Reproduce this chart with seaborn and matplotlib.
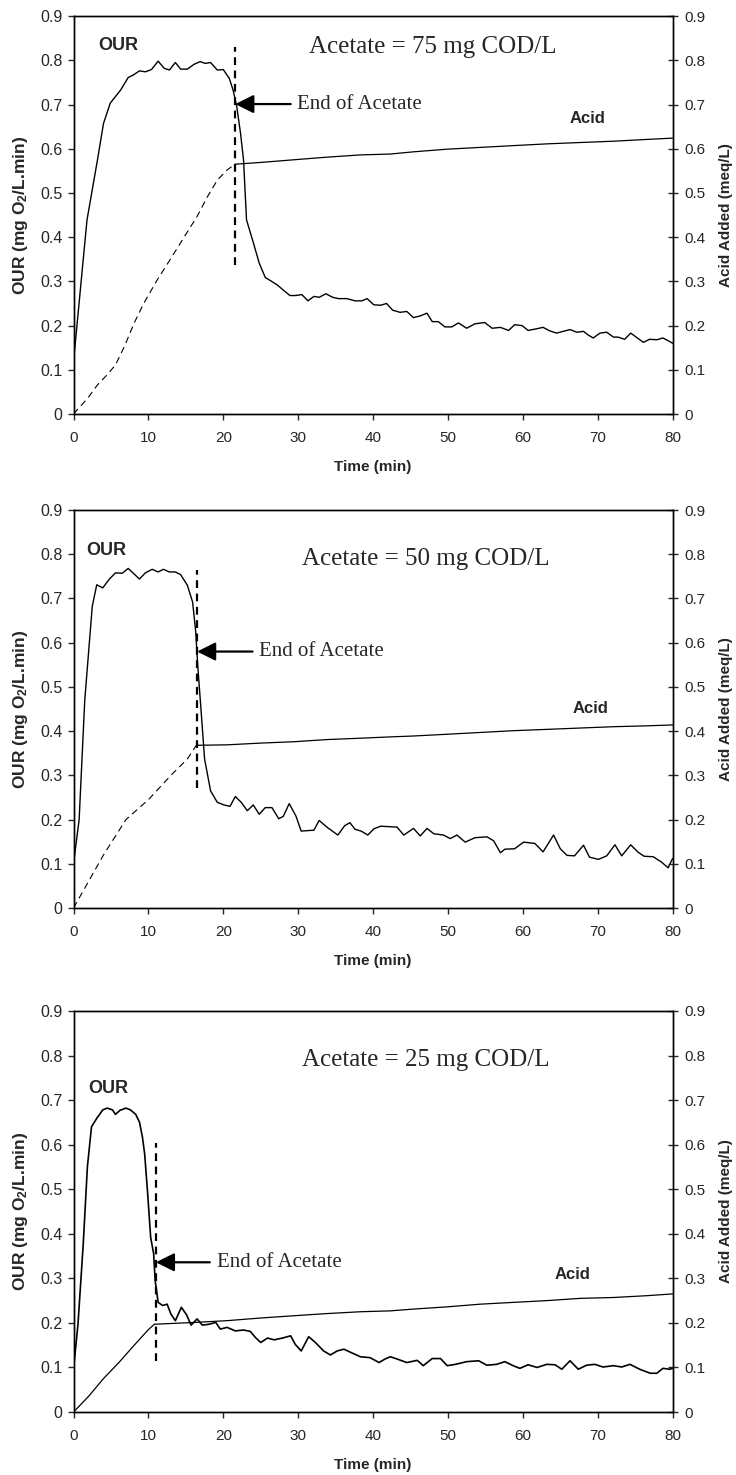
"""
OUR and acid added during acetate pulses (75, 50, 25 mg COD/L)
"""

import seaborn as sns
import numpy as np
from matplotlib import pyplot as plt

sns.set_style('ticks')
plt.rcParams['font.family'] = ['Liberation Sans', 'DejaVu Sans']
plt.rcParams['mathtext.fontset'] = 'custom'
plt.rcParams['mathtext.rm'] = 'Liberation Sans:bold'
plt.rcParams['mathtext.default'] = 'rm'

#------------------------------------------------------------------------------
# Data
#------------------------------------------------------------------------------
# Acetate = 75 mg COD/L
t_our75 = [0, 1.8, 3.2, 4.0, 4.9, 6.3, 7.3, 8.0, 8.8, 9.6,
           10.4, 11.3, 12.1, 12.8, 13.6, 14.3, 15.2, 16.1, 16.9, 17.6,
           18.3, 19.2, 20.0, 20.8, 21.3, 21.8, 22.3, 22.7, 23.1, 23.9,
           24.8, 25.6, 27.2, 28.1, 28.9, 29.6, 30.5, 31.3, 32.1, 32.8,
           33.7, 34.6, 35.4, 36.5, 37.6, 38.5, 39.2, 40.1, 41.0, 41.8,
           42.6, 43.6, 44.5, 45.4, 46.3, 47.2, 47.9, 48.7, 49.6, 50.5,
           51.4, 52.5, 53.6, 54.9, 55.9, 57.0, 58.1, 58.9, 59.9, 60.7,
           61.6, 62.7, 63.6, 64.5, 65.4, 66.3, 67.2, 68.1, 68.7, 69.4,
           70.3, 71.2, 72.1, 72.7, 73.6, 74.4, 75.3, 76.1, 76.9, 77.9,
           78.7, 79.6, 80.0]
our75 = [0.119, 0.439, 0.575, 0.657, 0.703, 0.733, 0.761, 0.767, 0.776, 0.774,
         0.779, 0.798, 0.782, 0.778, 0.795, 0.780, 0.780, 0.791, 0.797, 0.793,
         0.795, 0.778, 0.779, 0.759, 0.733, 0.695, 0.635, 0.575, 0.439, 0.394,
         0.341, 0.309, 0.292, 0.279, 0.268, 0.268, 0.270, 0.256, 0.266, 0.264,
         0.272, 0.264, 0.261, 0.261, 0.256, 0.256, 0.261, 0.247, 0.246, 0.250,
         0.235, 0.230, 0.232, 0.218, 0.222, 0.228, 0.209, 0.209, 0.197, 0.197,
         0.206, 0.194, 0.204, 0.207, 0.194, 0.196, 0.189, 0.202, 0.200, 0.189,
         0.192, 0.196, 0.188, 0.183, 0.187, 0.191, 0.185, 0.187, 0.179, 0.172,
         0.183, 0.185, 0.174, 0.174, 0.169, 0.183, 0.172, 0.162, 0.169, 0.168,
         0.172, 0.164, 0.160]
t_acid75 = [0, 1.9, 3.2, 4.5, 5.6, 6.8, 8.1, 9.4, 11.2, 13.0, 14.8, 16.5, 17.9,
            19.2, 20.5, 21.6, 25.0, 29.4, 33.9, 38.3, 42.3, 45.4, 49.9, 54.3,
            58.7, 63.2, 67.6, 72.1, 76.5, 80.0]
acid75 = [0, 0.036, 0.066, 0.089, 0.111, 0.153, 0.206, 0.251, 0.304, 0.352,
          0.401, 0.447, 0.492, 0.529, 0.552, 0.565, 0.569, 0.575, 0.581, 0.586,
          0.588, 0.593, 0.599, 0.603, 0.607, 0.611, 0.614, 0.617, 0.621, 0.624]

# Acetate = 50 mg COD/L
t_our50 = [0, 0.75, 1.5, 2.5, 3.1, 3.9, 4.8, 5.6, 6.5, 7.3,
           8.8, 9.6, 10.5, 11.3, 12.0, 12.8, 13.6, 14.3, 15.2, 15.9,
           16.3, 16.6, 17.0, 17.5, 18.3, 19.2, 20.1, 20.9, 21.6, 22.4,
           23.2, 24.0, 24.8, 25.6, 26.5, 27.4, 28.0, 28.8, 29.7, 30.4,
           32.1, 32.8, 33.9, 35.3, 36.2, 36.9, 37.6, 38.4, 39.3, 40.1,
           41.0, 43.2, 44.1, 45.4, 46.3, 47.2, 48.1, 49.4, 50.3, 51.2,
           52.3, 53.6, 55.2, 56.1, 57.0, 57.6, 58.9, 60.1, 61.6, 62.7,
           64.1, 65.0, 65.9, 66.9, 68.1, 68.9, 70.1, 71.2, 72.3, 73.2,
           74.4, 75.4, 76.2, 77.4, 78.5, 79.4, 80.0]
our50 = [0.100, 0.200, 0.470, 0.682, 0.731, 0.724, 0.744, 0.758, 0.757, 0.768,
         0.744, 0.758, 0.766, 0.760, 0.766, 0.760, 0.760, 0.754, 0.730, 0.692,
         0.628, 0.545, 0.454, 0.337, 0.265, 0.239, 0.233, 0.230, 0.252, 0.239,
         0.220, 0.233, 0.212, 0.227, 0.227, 0.202, 0.207, 0.236, 0.208, 0.174,
         0.176, 0.198, 0.182, 0.165, 0.186, 0.193, 0.178, 0.174, 0.165, 0.179,
         0.185, 0.183, 0.165, 0.180, 0.163, 0.180, 0.168, 0.165, 0.157, 0.165,
         0.149, 0.159, 0.161, 0.152, 0.125, 0.133, 0.134, 0.149, 0.146, 0.127,
         0.165, 0.134, 0.119, 0.118, 0.142, 0.115, 0.110, 0.118, 0.143, 0.118,
         0.143, 0.126, 0.117, 0.116, 0.104, 0.091, 0.112]
t_acid50 = [0, 2, 4, 7, 10, 13, 15.2, 16.4, 20.5, 25.0, 29.4, 33.9, 38.3, 42.3,
            45.4, 49.9, 54.3, 58.7, 63.2, 67.6, 72.1, 76.5, 80.0]
acid50 = [0, 0.06, 0.12, 0.20, 0.245, 0.30, 0.337, 0.368, 0.369, 0.373, 0.376,
          0.381, 0.384, 0.387, 0.389, 0.393, 0.397, 0.401, 0.404, 0.407, 0.410,
          0.412, 0.414]

# Acetate = 25 mg COD/L
t_our25 = [0, 0.6, 1.3, 1.85, 2.4, 3.1, 3.9, 4.5, 5.2, 5.6,
           6.2, 7.0, 7.6, 8.3, 8.8, 9.2, 9.5, 9.9, 10.3, 10.7,
           10.9, 11.3, 11.9, 12.5, 13.0, 13.6, 14.4, 15.1, 15.7, 16.5,
           17.2, 18.1, 19.0, 19.6, 20.5, 21.6, 22.7, 23.6, 24.3, 25.0,
           25.9, 26.8, 27.9, 29.0, 29.6, 30.4, 31.4, 32.3, 33.4, 34.3,
           35.2, 36.1, 37.0, 38.3, 39.6, 40.8, 41.6, 42.3, 43.2, 44.5,
           45.9, 46.7, 47.9, 49.0, 49.9, 51.0, 52.5, 54.1, 55.2, 56.5,
           57.6, 58.7, 59.6, 60.7, 61.9, 63.2, 64.3, 65.2, 66.3, 67.4,
           68.5, 69.6, 70.7, 72.1, 73.2, 74.3, 75.6, 77.0, 77.9, 78.7,
           79.6, 80.0]
our25 = [0.097, 0.198, 0.378, 0.550, 0.640, 0.659, 0.678, 0.682, 0.678, 0.668,
         0.677, 0.682, 0.678, 0.668, 0.651, 0.617, 0.579, 0.490, 0.392, 0.355,
         0.295, 0.246, 0.239, 0.242, 0.220, 0.205, 0.235, 0.218, 0.195, 0.209,
         0.195, 0.197, 0.201, 0.186, 0.190, 0.182, 0.184, 0.181, 0.167, 0.156,
         0.166, 0.162, 0.166, 0.171, 0.152, 0.137, 0.169, 0.156, 0.137, 0.128,
         0.137, 0.141, 0.134, 0.124, 0.122, 0.111, 0.119, 0.124, 0.119, 0.111,
         0.116, 0.104, 0.120, 0.120, 0.104, 0.107, 0.113, 0.115, 0.105, 0.107,
         0.113, 0.104, 0.098, 0.106, 0.100, 0.107, 0.106, 0.096, 0.115, 0.096,
         0.105, 0.107, 0.101, 0.104, 0.101, 0.107, 0.096, 0.087, 0.087, 0.098,
         0.096, 0.098]
t_acid25 = [0, 2, 4, 6, 8, 10, 10.8, 16.1, 20.5, 25.0, 29.4, 33.9, 38.3, 42.3,
            45.4, 49.9, 54.3, 58.7, 63.2, 67.6, 72.1, 76.5, 80.0]
acid25 = [0, 0.035, 0.075, 0.11, 0.148, 0.185, 0.197, 0.201, 0.205, 0.211,
          0.216, 0.221, 0.225, 0.227, 0.231, 0.236, 0.242, 0.246, 0.250, 0.255,
          0.257, 0.261, 0.265]

doses = ['75', '50', '25']
end_time = [21.6, 16.5, 11.0]           # end of acetate (min)
end_line_lo = [0.337, 0.271, 0.115]
end_line_hi = [0.829, 0.764, 0.603]
arrow_level = [0.701, 0.580, 0.336]
arrow_tail = [29.0, 23.9, 18.2]
acid_dashed_until = [21.6, 16.4, None]  # pre-end acid trace is dashed in 2 panels

# label anchors (data coords)
title_pos = [(31.4, 0.817), (30.5, 0.776), (30.5, 0.776)]
our_pos = [(6.0, 0.833), (4.35, 0.809), (4.6, 0.727)]
acid_pos = [(68.6, 0.668), (69.1, 0.452), (66.6, 0.308)]

our_t = [t_our75, t_our50, t_our25]
our_v = [our75, our50, our25]
acid_t = [t_acid75, t_acid50, t_acid25]
acid_v = [acid75, acid50, acid25]

#------------------------------------------------------------------------------
# Plot figure
#------------------------------------------------------------------------------
fig = plt.figure(figsize=(7.36, 14.75), dpi=100)
boxes = [[0.0999, 0.7193, 0.814, 0.2698],
         [0.0999, 0.3844, 0.814, 0.2698],
         [0.0999, 0.0427, 0.814, 0.2719]]

for i in range(3):
    ax = fig.add_axes(boxes[i])
    ax2 = ax.twinx()

    lw_our = 1.2 if i == 2 else 1.0
    sns.lineplot(x=our_t[i], y=our_v[i], ax=ax, color='black', linewidth=lw_our,
                 estimator=None, sort=False)

    ta = np.array(acid_t[i])
    va = np.array(acid_v[i])
    cut = acid_dashed_until[i]
    if cut is None:
        sns.lineplot(x=ta, y=va, ax=ax2, color='black', linewidth=0.9,
                     estimator=None, sort=False)
    else:
        pre = ta <= cut
        post = ta >= cut
        sns.lineplot(x=ta[pre], y=va[pre], ax=ax2, color='black', linewidth=0.8,
                     linestyle=(0, (6, 4)), estimator=None, sort=False)
        sns.lineplot(x=ta[post], y=va[post], ax=ax2, color='black', linewidth=0.9,
                     estimator=None, sort=False)

    # end of acetate marker
    ax.vlines(end_time[i], end_line_lo[i], end_line_hi[i], colors='black',
              linewidth=1.6, linestyles=(0, (3.5, 2.5)))
    ax.annotate('', xy=(end_time[i], arrow_level[i]),
                xytext=(arrow_tail[i], arrow_level[i]),
                arrowprops=dict(arrowstyle='-|>,head_length=0.7,head_width=0.35',
                                color='black', lw=1.6, shrinkA=0, shrinkB=0,
                                mutation_scale=16))
    ax.text(arrow_tail[i] + 0.9, arrow_level[i], 'End of Acetate',
            family='Liberation Serif', fontsize=15, va='center', ha='left')

    ax.text(title_pos[i][0], title_pos[i][1], f'Acetate = {doses[i]} mg COD/L',
            family='Liberation Serif', fontsize=18, va='baseline', ha='left')
    ax.text(our_pos[i][0], our_pos[i][1], 'OUR', fontsize=13, fontweight='bold',
            ha='center', va='center')
    ax.text(acid_pos[i][0], acid_pos[i][1], 'Acid', fontsize=12, fontweight='bold',
            ha='center', va='center')

    for a in (ax, ax2):
        a.set_xlim(0, 80)
        a.set_ylim(0, 0.9)
        for s in a.spines.values():
            s.set_visible(True)
            s.set_linewidth(1.0)
            s.set_color('black')
    ax.set_xticks(np.arange(0, 81, 10))
    ax.set_yticks(np.round(np.arange(0, 0.91, 0.1), 1))
    ax2.set_yticks(np.round(np.arange(0, 0.91, 0.1), 1))
    ax.set_yticklabels(['0'] + [f'{v:.1f}' for v in np.arange(0.1, 0.91, 0.1)])
    ax2.set_yticklabels(['0'] + [f'{v:.1f}' for v in np.arange(0.1, 0.91, 0.1)])

    ax.tick_params(axis='y', direction='out', length=4, width=1, labelsize=11.5, pad=4)
    ax.tick_params(axis='x', direction='out', length=4, width=1, labelsize=11, pad=8)
    ax2.tick_params(axis='y', direction='inout', length=7, width=1, labelsize=11, pad=5)

    ax.set_xlabel('Time (min)', fontsize=11, fontweight='bold')
    ax.xaxis.label.set_va('center')
    ax.xaxis.set_label_coords(0.5, -0.132)
    ax.set_ylabel(r'OUR (mg O$_2$/L.min)', fontsize=12.5, fontweight='bold')
    ax.yaxis.label.set_va('center')
    ax.yaxis.set_label_coords(-0.088, 0.5)
    ax2.set_ylabel('Acid Added (meq/L)', fontsize=11, fontweight='bold')
    ax2.yaxis.label.set_va('center')
    ax2.yaxis.set_label_coords(1.089, 0.5)

#------------------------------------------------------------------------------
# Save figure
#------------------------------------------------------------------------------
plt.savefig('out.png', dpi=100)
